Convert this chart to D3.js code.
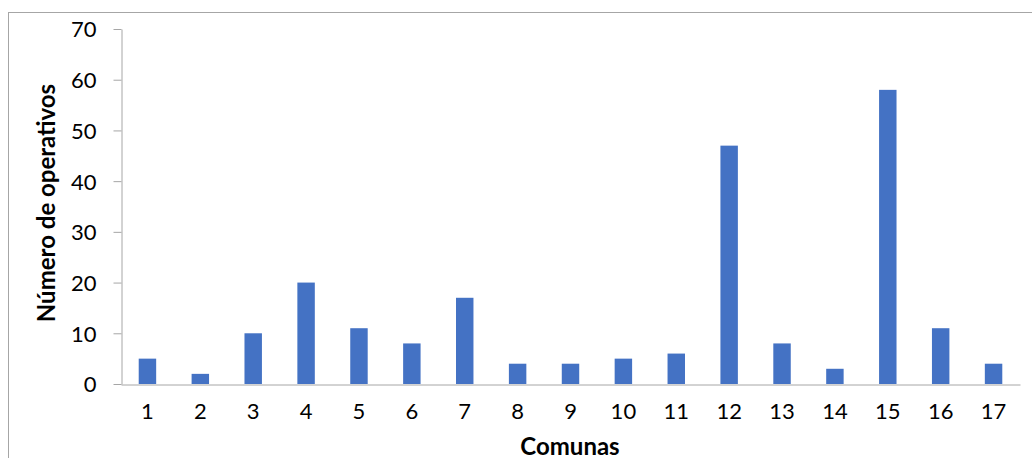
<!DOCTYPE html>
<html>
<head>
    <meta charset="UTF-8">
    <style>
        body { margin: 0; background: #fff; }
        .tick text { font-family: Lato, "Open Sans", sans-serif; font-size: 22px; fill: #000; }
        .title { font-family: Lato, "Open Sans", sans-serif; font-size: 24px; font-weight: bold; fill: #000; }
    </style>
    <script src="https://d3js.org/d3.v7.min.js"></script>
</head>
<body>
    <svg id="chart" width="1032" height="458"></svg>
    <script>
        // datos
        var comunas = ["1", "2", "3", "4", "5", "6", "7", "8", "9", "10", "11", "12", "13", "14", "15", "16", "17"];
        var operativos = [5, 2, 10, 20, 11, 8, 17, 4, 4, 5, 6, 47, 8, 3, 58, 11, 4];
        var yTicks = [0, 10, 20, 30, 40, 50, 60, 70];

        var svg = d3.select("#chart");

        // marco del grafico
        svg.append("rect")
            .attr("x", 8.5).attr("y", 12.5)
            .attr("width", 1040).attr("height", 460)
            .attr("fill", "none")
            .attr("stroke", "#a6a6a6");

        var mLeft = 121, mRight = 1020, mTop = 29, mBottom = 384;

        var x = d3.scaleBand().domain(comunas).range([mLeft, mRight]).paddingInner(0.67).paddingOuter(0.335);
        var y = d3.scaleLinear().domain([0, 70]).range([mBottom, mTop]);

        var data = comunas.map(function(c, i) { return { comuna: c, valor: operativos[i] }; });

        svg.selectAll(".bar")
            .data(data)
            .enter()
            .append("rect")
            .attr("class", "bar")
            .attr("x", function(d) { return x(d.comuna); })
            .attr("y", function(d) { return y(d.valor); })
            .attr("width", x.bandwidth())
            .attr("height", function(d) { return mBottom - y(d.valor); })
            .attr("fill", "#4472c4");

        // eje y
        var gy = svg.append("g")
            .attr("transform", "translate(" + (mLeft + 0.5) + ",0)")
            .call(d3.axisLeft(y).tickValues(yTicks).tickSize(8).tickPadding(17).tickSizeOuter(0));
        gy.selectAll("line, path").attr("stroke", "#a6a6a6");
        gy.selectAll(".tick text").attr("dy", "0.36em");

        // eje x
        var gx = svg.append("g")
            .attr("transform", "translate(0," + (mBottom + 0.5) + ")")
            .call(d3.axisBottom(x).tickSize(0).tickPadding(27).tickSizeOuter(0));
        gx.select(".domain").attr("stroke", "#a6a6a6");
        gx.selectAll(".tick text").attr("dy", "0.36em");

        // titulos
        svg.append("text")
            .attr("class", "title")
            .attr("x", 570).attr("y", 455)
            .attr("text-anchor", "middle")
            .text("Comunas");

        svg.append("text")
            .attr("class", "title")
            .attr("transform", "translate(55,203) rotate(-90)")
            .attr("text-anchor", "middle")
            .text("Número de operativos");
    </script>
</body>
</html>
